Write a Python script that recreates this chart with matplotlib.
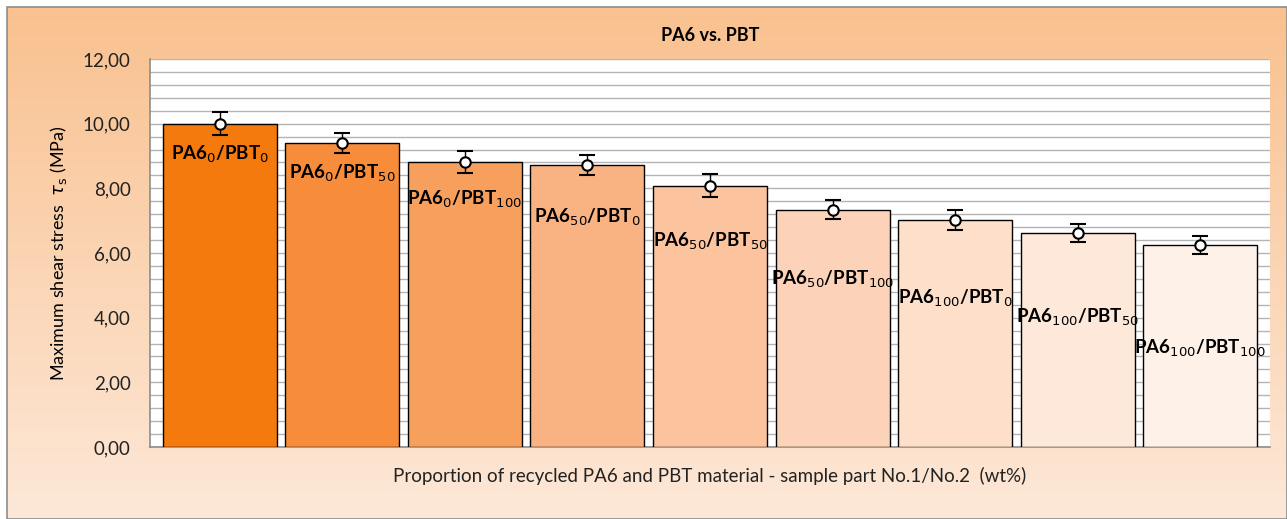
import matplotlib
matplotlib.use('Agg')
import matplotlib.pyplot as plt
import numpy as np
from matplotlib.patches import Rectangle
from matplotlib.ticker import MultipleLocator, FuncFormatter

plt.rcParams['font.family'] = ['Lato', 'DejaVu Sans']

# data
labels = [
    r'PA6$_{0}$/PBT$_{0}$',
    r'PA6$_{0}$/PBT$_{50}$',
    r'PA6$_{0}$/PBT$_{100}$',
    r'PA6$_{50}$/PBT$_{0}$',
    r'PA6$_{50}$/PBT$_{50}$',
    r'PA6$_{50}$/PBT$_{100}$',
    r'PA6$_{100}$/PBT$_{0}$',
    r'PA6$_{100}$/PBT$_{50}$',
    r'PA6$_{100}$/PBT$_{100}$',
]
shear_stress = [10.00, 9.40, 8.82, 8.72, 8.08, 7.34, 7.03, 6.62, 6.26]
errors = [0.35, 0.30, 0.35, 0.30, 0.35, 0.30, 0.31, 0.27, 0.28]
label_y = [9.05, 8.45, 7.65, 7.10, 6.35, 5.20, 4.60, 4.00, 3.05]
bar_colors = ['#F47A0E', '#F78D3A', '#F7A05E', '#F9B383', '#FBC49E',
              '#FCD3B8', '#FDDFCA', '#FDE8D9', '#FEF1E8']

fig = plt.figure(figsize=(12.87, 5.19), dpi=100)
fig.patch.set_facecolor('white')

# chart area background with vertical gradient
bg = fig.add_axes([7 / 1287, 0, 1 - 7 / 1287, 1 - 7 / 519], zorder=-10)
grad = np.linspace(0, 1, 256).reshape(-1, 1)
top_c = np.array([0xF9, 0xC1, 0x8F]) / 255
bot_c = np.array([0xFD, 0xE8, 0xD8]) / 255
img = top_c[None, None, :] * (1 - grad[:, :, None]) + bot_c[None, None, :] * grad[:, :, None]
bg.imshow(img, aspect='auto', extent=(0, 1, 0, 1))
bg.set_xlim(0, 1)
bg.set_ylim(0, 1)
bg.axis('off')
bg.add_patch(Rectangle((0, 0), 1, 1, fill=False, edgecolor='#8C8C8C', lw=1.2,
                       transform=bg.transAxes, clip_on=False))

ax = fig.add_axes([150 / 1287, 1 - 447 / 519, 1120 / 1287, 388 / 519])
ax.set_facecolor('white')

x = np.arange(len(labels))
ax.bar(x, shear_stress, width=0.93, color=bar_colors, edgecolor='black',
       linewidth=1.0, zorder=3)
ax.errorbar(x, shear_stress, yerr=errors, fmt='o', color='black', ecolor='black',
            elinewidth=1.0, capsize=6, capthick=1.0, markersize=7.5,
            markerfacecolor='white', markeredgecolor='black', markeredgewidth=1.5,
            zorder=5)

for xi, yi, lab in zip(x, label_y, labels):
    ax.text(xi, yi, lab, ha='center', va='center', fontsize=13.5,
            fontweight='bold', color='black', zorder=6)

ax.set_xlim(-0.57, len(labels) - 0.43)
ax.set_ylim(0, 12)
ax.yaxis.set_major_locator(MultipleLocator(2))
ax.yaxis.set_minor_locator(MultipleLocator(0.4))
ax.yaxis.set_major_formatter(FuncFormatter(lambda v, p: f'{v:.2f}'.replace('.', ',')))
ax.grid(axis='y', which='both', color='#B4B4B4', linewidth=1.0, zorder=0)
ax.set_axisbelow(True)
ax.set_xticks([])
ax.tick_params(axis='y', which='both', length=0, labelsize=13.5, pad=14, colors='#222222')

for side in ['top', 'right']:
    ax.spines[side].set_visible(False)
for side in ['left', 'bottom']:
    ax.spines[side].set_color('#8C8C8C')
    ax.spines[side].set_linewidth(1.2)

ax.set_title('PA6 vs. PBT', fontsize=13, fontweight='bold', pad=13)
ax.set_ylabel(r'Maximum shear stress  $\tau_{\rm s}$ (MPa)', fontsize=13, labelpad=10)
ax.set_xlabel('Proportion of recycled PA6 and PBT material - sample part No.1/No.2  (wt%)',
              fontsize=13.5, labelpad=14, color='#222222')

fig.savefig('out.png', dpi=100)
